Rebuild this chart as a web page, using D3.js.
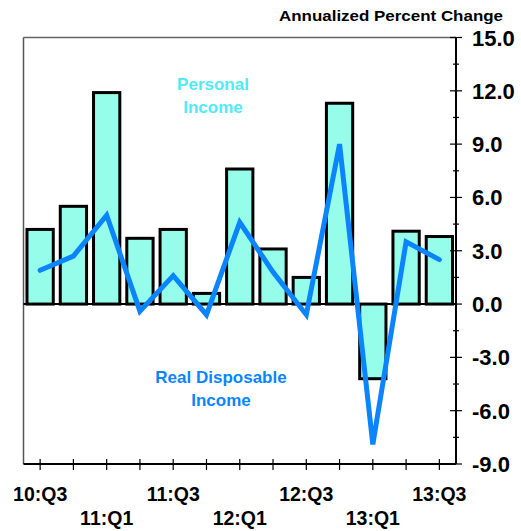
<!DOCTYPE html>
<html>
<head>
<meta charset="utf-8">
<script src="https://cdn.jsdelivr.net/npm/d3@7"></script>
<style>
  body { margin: 0; background: #fff; }
  text { font-family: "Liberation Sans", Arial, sans-serif; font-weight: bold; }
</style>
</head>
<body>
<script>
// quarters 10:Q3 .. 13:Q3
var quarters = ["10:Q3","10:Q4","11:Q1","11:Q2","11:Q3","11:Q4","12:Q1","12:Q2","12:Q3","12:Q4","13:Q1","13:Q2","13:Q3"];
var personalIncome = [4.2, 5.5, 11.9, 3.7, 4.2, 0.6, 7.6, 3.1, 1.5, 11.3, -4.2, 4.1, 3.8];
var realDisposable = [1.9, 2.7, 5.0, -0.4, 1.6, -0.6, 4.6, 1.8, -0.6, 9.0, -7.9, 3.5, 2.5];
var yTicks = [15, 12, 9, 6, 3, 0, -3, -6, -9];
var yMinor = [13.5, 10.5, 7.5, 4.5, 1.5, -1.5, -4.5, -7.5];
var xLabelsTop = ["10:Q3","11:Q3","12:Q3","13:Q3"];
var xLabelsBottom = ["11:Q1","12:Q1","13:Q1"];

var width = 521, height = 531;
var pLeft = 23.5, pRight = 456, pTop = 37.5, pBottom = 464;

var svg = d3.select("body").append("svg")
    .attr("width", width)
    .attr("height", height);

var x = d3.scaleBand()
    .domain(quarters)
    .range([pLeft, pRight]);

var xc = function(q) { return x(q) + x.bandwidth() / 2; };

var y = d3.scaleLinear()
    .domain([-9, 15])
    .range([pBottom, pTop]);

// frame: top and left in gray
svg.append("line")
    .attr("x1", pLeft).attr("x2", pRight)
    .attr("y1", pTop).attr("y2", pTop)
    .attr("stroke", "#666").attr("stroke-width", 1.5);
svg.append("line")
    .attr("x1", pLeft).attr("x2", pLeft)
    .attr("y1", pTop).attr("y2", pBottom)
    .attr("stroke", "#555").attr("stroke-width", 1.5);

// bars
var bw = x.bandwidth() * 0.79;
svg.selectAll("rect.bar")
    .data(personalIncome)
    .enter().append("rect")
    .attr("class", "bar")
    .attr("x", function(d, i) { return xc(quarters[i]) - bw / 2; })
    .attr("width", bw)
    .attr("y", function(d) { return y(Math.max(0, d)); })
    .attr("height", function(d) { return Math.abs(y(d) - y(0)); })
    .attr("fill", "#96FDEB")
    .attr("stroke", "#000")
    .attr("stroke-width", 3);

// zero line
svg.append("line")
    .attr("x1", pLeft).attr("x2", pRight)
    .attr("y1", y(0)).attr("y2", y(0))
    .attr("stroke", "#000").attr("stroke-width", 2);

// line
var line = d3.line()
    .x(function(d, i) { return xc(quarters[i]); })
    .y(function(d) { return y(d); });

svg.append("path")
    .datum(realDisposable)
    .attr("d", line)
    .attr("fill", "none")
    .attr("stroke", "#0A84FF")
    .attr("stroke-width", 5)
    .attr("stroke-linecap", "round")
    .attr("stroke-linejoin", "miter");

// right axis
svg.append("line")
    .attr("x1", pRight).attr("x2", pRight)
    .attr("y1", pTop).attr("y2", pBottom)
    .attr("stroke", "#000").attr("stroke-width", 2);

svg.selectAll("line.ymaj")
    .data(yTicks)
    .enter().append("line")
    .attr("x1", pRight - 6).attr("x2", pRight + 6)
    .attr("y1", function(d) { return y(d); })
    .attr("y2", function(d) { return y(d); })
    .attr("stroke", "#000").attr("stroke-width", 1.2);

svg.selectAll("line.ymin")
    .data(yMinor)
    .enter().append("line")
    .attr("x1", pRight - 3).attr("x2", pRight + 3)
    .attr("y1", function(d) { return y(d); })
    .attr("y2", function(d) { return y(d); })
    .attr("stroke", "#000").attr("stroke-width", 1.2);

svg.selectAll("text.ylab")
    .data(yTicks)
    .enter().append("text")
    .attr("x", 472)
    .attr("y", function(d) { return y(d) + 8; })
    .attr("font-size", "22px")
    .attr("fill", "#000")
    .text(function(d) { return d.toFixed(1); });

// bottom axis
svg.append("line")
    .attr("x1", pLeft).attr("x2", pRight)
    .attr("y1", pBottom).attr("y2", pBottom)
    .attr("stroke", "#000").attr("stroke-width", 2);

svg.selectAll("line.xt")
    .data(quarters)
    .enter().append("line")
    .attr("x1", xc).attr("x2", xc)
    .attr("y1", pBottom - 5).attr("y2", pBottom + 6)
    .attr("stroke", "#000").attr("stroke-width", 1.2);

svg.selectAll("text.xl1")
    .data(xLabelsTop)
    .enter().append("text")
    .attr("x", xc)
    .attr("y", 501)
    .attr("text-anchor", "middle")
    .attr("font-size", "19.5px")
    .text(function(d) { return d; });

svg.selectAll("text.xl2")
    .data(xLabelsBottom)
    .enter().append("text")
    .attr("x", xc)
    .attr("y", 525)
    .attr("text-anchor", "middle")
    .attr("font-size", "19.5px")
    .text(function(d) { return d; });

// title
svg.append("text")
    .attr("x", 279)
    .attr("y", 20.5)
    .attr("font-size", "15px")
    .attr("textLength", 224)
    .attr("lengthAdjust", "spacingAndGlyphs")
    .text("Annualized Percent Change");

// series labels
function label(lines, cx, y0, color) {
  lines.forEach(function(t, i) {
    svg.append("text")
      .attr("x", cx)
      .attr("y", y0 + i * 23)
      .attr("text-anchor", "middle")
      .attr("font-size", "17px")
      .attr("fill", color)
      .text(t);
  });
}
label(["Personal", "Income"], 213, 90, "#4FEBFA");
label(["Real Disposable", "Income"], 221, 383, "#0A84FF");
</script>
</body>
</html>
